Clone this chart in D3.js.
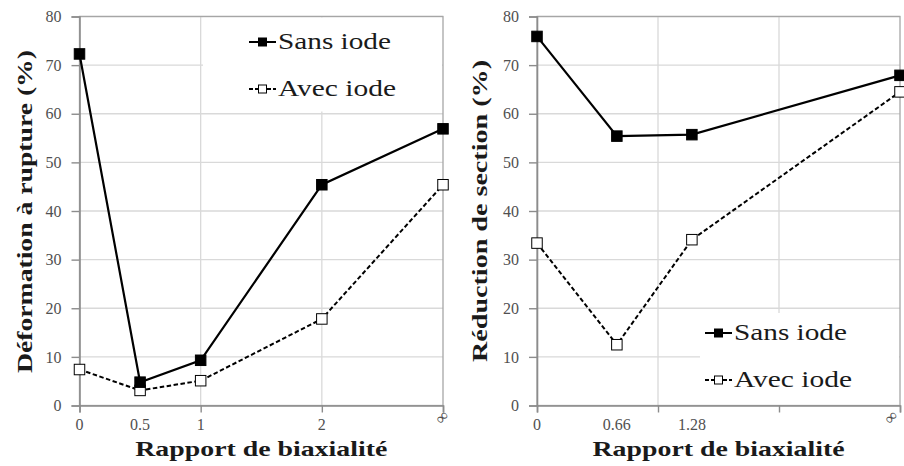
<!DOCTYPE html>
<html>
<head>
<meta charset="utf-8">
<script src="https://cdn.jsdelivr.net/npm/d3@7"></script>
<style>
  html, body { margin: 0; padding: 0; background: #fff; }
  svg { display: block; }
  text { font-family: "Liberation Serif", "Times New Roman", "DejaVu Serif", serif; }
</style>
</head>
<body>
<svg id="chart" width="904" height="466"></svg>
<script>
// ---------- data ----------
const seriesNames = ["Sans iode", "Avec iode"];
const yTicks = [0, 10, 20, 30, 40, 50, 60, 70, 80];
const xTicks = [0, 1, 2, 3];           // 3 stands for ∞
const xGrid = [1, 2];

const leftX = [0, 0.5, 1, 2, 3];
const leftXLabels = ["0", "0.5", "1", "2", "∞"];
const leftSans = [72.3, 4.8, 9.3, 45.4, 56.9];
const leftAvec = [7.4, 3.1, 5.1, 17.8, 45.4];
const leftYTitle = "Déformation à rupture (%)";

const rightX = [0, 0.66, 1.28, 3];
const rightXLabels = ["0", "0.66", "1.28", "∞"];
const rightSans = [75.9, 55.4, 55.7, 67.9];
const rightAvec = [33.4, 12.5, 34.1, 64.5];
const rightYTitle = "Réduction de section (%)";

const xTitle = "Rapport de biaxialité";

// ---------- drawing ----------
const svg = d3.select("#chart");
const FONT = "'Liberation Serif', 'Times New Roman', 'DejaVu Serif', serif";

function panel(cfg) {
  const g = svg.append("g");
  const x = d3.scaleLinear().domain([0, 3]).range([cfg.x0, cfg.x1]);
  const y = d3.scaleLinear().domain([0, 80]).range([405.5, 16.5]);

  // grid
  g.append("g").selectAll("line").data(yTicks.slice(1)).join("line")
    .attr("x1", cfg.x0).attr("x2", cfg.x1)
    .attr("y1", d => y(d)).attr("y2", d => y(d))
    .attr("stroke", "#d9d9d9").attr("stroke-width", 1.3);
  g.append("g").selectAll("line").data(xGrid).join("line")
    .attr("x1", d => x(d)).attr("x2", d => x(d))
    .attr("y1", y(0)).attr("y2", y(80))
    .attr("stroke", "#d9d9d9").attr("stroke-width", 1.3);

  // legend background (hides grid)
  g.append("rect")
    .attr("x", cfg.leg.bx).attr("y", cfg.leg.by)
    .attr("width", cfg.leg.bw).attr("height", cfg.leg.bh)
    .attr("fill", "#fff");

  // border
  g.append("rect")
    .attr("x", cfg.x0).attr("y", y(80))
    .attr("width", cfg.x1 - cfg.x0).attr("height", y(0) - y(80))
    .attr("fill", "none").attr("stroke", "#a6a6a6").attr("stroke-width", 1.3);

  // axes
  const yAxis = d3.axisLeft(y).tickValues(yTicks).tickSize(8).tickPadding(10);
  const ya = g.append("g").attr("transform", `translate(${cfg.x0},0)`).call(yAxis);
  ya.attr("font-family", FONT).attr("font-size", 16);
  ya.select(".domain").attr("stroke", "#8c8c8c").attr("stroke-width", 1.6);
  ya.selectAll(".tick line").attr("stroke", "#8c8c8c").attr("stroke-width", 1.4);
  ya.selectAll(".tick text").attr("fill", "#505050")
    .style("font-size", "16px").style("font-family", FONT);

  const xAxis = d3.axisBottom(x).tickValues(xTicks).tickSize(7).tickFormat("");
  const xa = g.append("g").attr("transform", `translate(0,${y(0)})`).call(xAxis);
  xa.select(".domain").attr("stroke", "#8c8c8c").attr("stroke-width", 1.6);
  xa.selectAll(".tick line").attr("stroke", "#8c8c8c").attr("stroke-width", 1.4);

  // x labels at data positions
  g.append("g").selectAll("text").data(cfg.xs).join("text")
    .attr("transform", (d, i) => cfg.xLabels[i] === "∞"
      ? `translate(${Math.min(x(d), cfg.infMax)},${y(0) + 13}) rotate(-45)`
      : `translate(${x(d)},${y(0) + 24})`)
    .attr("text-anchor", "middle")
    .attr("dominant-baseline", (d, i) => cfg.xLabels[i] === "∞" ? "middle" : "auto")
    .attr("fill", "#505050")
    .style("font-family", FONT)
    .style("font-size", (d, i) => cfg.xLabels[i] === "∞" ? "17px" : "16px")
    .text((d, i) => cfg.xLabels[i]);

  // titles
  g.append("text")
    .attr("x", (cfg.x0 + cfg.x1) / 2).attr("y", 456)
    .attr("text-anchor", "middle")
    .attr("font-weight", "bold").style("font-size", "21px").style("font-family", FONT)
    .attr("fill", "#1a1a1a")
    .attr("textLength", 252).attr("lengthAdjust", "spacingAndGlyphs")
    .text(xTitle);
  g.append("text")
    .attr("transform", `translate(${cfg.ytx},${cfg.ytc}) rotate(-90)`)
    .attr("text-anchor", "middle")
    .attr("font-weight", "bold").style("font-size", "21px").style("font-family", FONT)
    .attr("fill", "#1a1a1a")
    .attr("textLength", cfg.ytl).attr("lengthAdjust", "spacingAndGlyphs")
    .text(cfg.yTitle);

  // series
  const line = d3.line().x(d => x(d[0])).y(d => y(d[1]));
  const sans = cfg.xs.map((v, i) => [v, cfg.sans[i]]);
  const avec = cfg.xs.map((v, i) => [v, cfg.avec[i]]);
  g.append("path").datum(avec).attr("d", line)
    .attr("fill", "none").attr("stroke", "#000").attr("stroke-width", 2)
    .attr("stroke-dasharray", "4.5,2.5");
  g.append("path").datum(sans).attr("d", line)
    .attr("fill", "none").attr("stroke", "#000").attr("stroke-width", 2.2);
  const ms = 10.5;
  g.append("g").selectAll("rect").data(avec).join("rect")
    .attr("x", d => x(d[0]) - ms / 2).attr("y", d => y(d[1]) - ms / 2)
    .attr("width", ms).attr("height", ms)
    .attr("fill", "#fff").attr("stroke", "#000").attr("stroke-width", 1);
  g.append("g").selectAll("rect").data(sans).join("rect")
    .attr("x", d => x(d[0]) - ms / 2).attr("y", d => y(d[1]) - ms / 2)
    .attr("width", ms).attr("height", ms)
    .attr("fill", "#000").attr("stroke", "#000").attr("stroke-width", 1);

  // legend
  const L = cfg.leg;
  seriesNames.forEach((name, i) => {
    const cy = L.y + i * L.dy;
    const lg = g.append("g");
    lg.append("line").attr("x1", L.x).attr("x2", L.x + 27).attr("y1", cy).attr("y2", cy)
      .attr("stroke", "#000").attr("stroke-width", 2)
      .attr("stroke-dasharray", i === 1 ? "4,2" : null);
    lg.append("rect").attr("x", L.x + 13.5 - 4).attr("y", cy - 4)
      .attr("width", 8).attr("height", 8)
      .attr("fill", i === 0 ? "#000" : "#fff").attr("stroke", "#000").attr("stroke-width", 1);
    lg.append("text").attr("x", L.x + 29).attr("y", cy + 7)
      .attr("fill", "#1a1a1a").style("font-size", "23px").style("font-family", FONT)
      .attr("textLength", i === 0 ? 113 : 118).attr("lengthAdjust", "spacingAndGlyphs")
      .text(name);
  });
}

panel({
  x0: 79.5, x1: 443, xs: leftX, xLabels: leftXLabels, infMax: 443,
  sans: leftSans, avec: leftAvec, yTitle: leftYTitle,
  ytx: 32, ytc: 211.5, ytl: 323,
  leg: { x: 249, y: 42, dy: 47, bx: 203, by: 17.5, bw: 239, bh: 94 }
});
panel({
  x0: 537, x1: 900, xs: rightX, xLabels: rightXLabels, infMax: 892,
  sans: rightSans, avec: rightAvec, yTitle: rightYTitle,
  ytx: 487, ytc: 211, ytl: 302,
  leg: { x: 705, y: 333, dy: 47, bx: 700, by: 313, bw: 199, bh: 92 }
});
</script>
</body>
</html>
